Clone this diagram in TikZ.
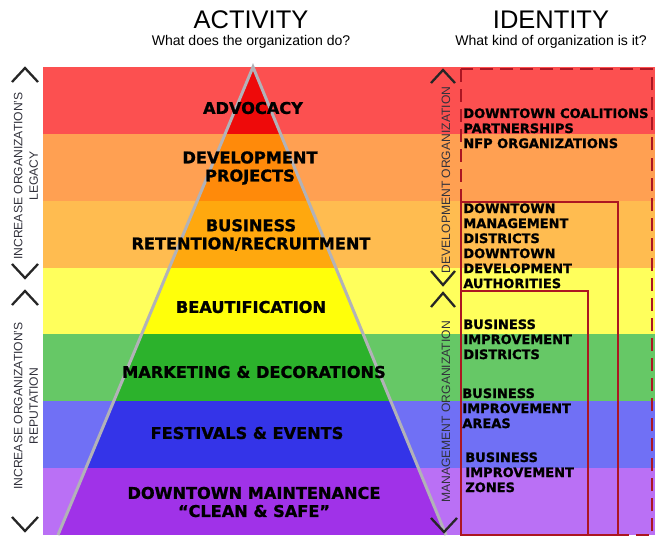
\documentclass[tikz,border=0pt]{standalone}
\usepackage{fontspec}
\setmainfont{Liberation Sans}
\newfontfamily\blackfont{DejaVu Sans}[BoldFeatures={FakeBold=1.1}]
\usetikzlibrary{positioning}

% band colours: light (outside the pyramid) / full (inside it)
\definecolor{redL}{RGB}{252,80,80}
\definecolor{redF}{RGB}{238,10,10}
\definecolor{orgL}{RGB}{255,160,82}
\definecolor{orgF}{RGB}{255,138,10}
\definecolor{ambL}{RGB}{255,188,80}
\definecolor{ambF}{RGB}{255,168,14}
\definecolor{yelL}{RGB}{255,255,92}
\definecolor{yelF}{RGB}{255,255,10}
\definecolor{grnL}{RGB}{102,200,102}
\definecolor{grnF}{RGB}{44,178,44}
\definecolor{bluL}{RGB}{112,112,245}
\definecolor{bluF}{RGB}{52,52,232}
\definecolor{purL}{RGB}{186,112,245}
\definecolor{purF}{RGB}{160,50,232}
\definecolor{tierred}{RGB}{172,22,34}
\definecolor{pyrgray}{RGB}{178,178,184}
\definecolor{axisink}{RGB}{50,50,60}

\newcommand\bandlist{redL/redF, orgL/orgF, ambL/ambF, yelL/yelF,
  grnL/grnF, bluL/bluF, purL/purF}

\tikzset{
  heading/.style={font=\fontsize{14.5}{16}\selectfont, inner sep=0pt},
  question/.style={font=\fontsize{8}{9}\selectfont, inner sep=0pt},
  activity/.style={
    font=\blackfont\bfseries\fontsize{9.2}{10.3}\selectfont,
    align=center, inner sep=0pt
  },
  orgtype/.style={
    font=\blackfont\bfseries\fontsize{7.4}{8.55}\selectfont,
    align=left, anchor=north west, inner sep=0pt
  },
  axislabel/.style={
    font=\fontsize{6.9}{8.9}\selectfont, text=axisink,
    rotate=90, align=center, inner sep=0pt
  },
  chevron/.style={line width=1.3pt, line join=miter, draw=black!85},
  tier/.style={draw=tierred, line width=1.3pt}
}

\begin{document}
\begin{tikzpicture}[x=0.02cm, y=-0.02cm]
  \useasboundingbox (0,0) rectangle (655,540);

  %% ---- colour bands ------------------------------------------------
  \foreach \lc/\fc [count=\i from 0] in \bandlist {
    \fill[\lc] (43,{67+66.86*\i}) rectangle (655,{67+66.86*(\i+1)});
  }
  \begin{scope}
    \clip (253,67) -- (58,535) -- (446,535) -- cycle;
    \foreach \lc/\fc [count=\i from 0] in \bandlist {
      \fill[\fc] (43,{67+66.86*\i}) rectangle (655,{67+66.86*(\i+1)});
    }
  \end{scope}
  \draw[pyrgray, line width=1.7pt] (58,535) -- (253,67) -- (446,535);

  %% ---- headings ----------------------------------------------------
  \node[heading] (act) at (251,20) {ACTIVITY};
  \node[question, below=3.4pt of act] (actq) {What does the organization do?};
  \node[heading] (idn) at (551,20) {IDENTITY};
  \node[question, below=3.4pt of idn] (idnq) {What kind of organization is it?};

  %% ---- pyramid: activities -----------------------------------------
  \node[activity] (adv) at (253,108) {ADVOCACY};
  \node[activity] (dev) at (250,168) {DEVELOPMENT\\PROJECTS};
  \node[activity] (ret) at (251,235) {BUSINESS\\RETENTION/RECRUITMENT};
  \node[activity] (bea) at (251,307) {BEAUTIFICATION};
  \node[activity] (mkt) at (254,372) {MARKETING \& DECORATIONS};
  \node[activity] (fes) at (247,433) {FESTIVALS \& EVENTS};
  \node[activity] (mnt) at (254,502) {DOWNTOWN MAINTENANCE\\“CLEAN \& SAFE”};

  %% ---- identity tiers ----------------------------------------------
  \draw[tier, dash pattern=on 7.4pt off 4pt] (461,69) rectangle (652,535);
  \draw[tier] (461,202) rectangle (618,535);
  \draw[tier] (461,291) rectangle (588,535);

  \node[orgtype] (coal) at (463,108)
    {DOWNTOWN COALITIONS\\PARTNERSHIPS\\NFP ORGANIZATIONS};
  \node[orgtype] (dmd) at (463,203)
    {DOWNTOWN\\MANAGEMENT\\DISTRICTS\\DOWNTOWN\\DEVELOPMENT\\AUTHORITIES};
  \node[orgtype] (bid) at (463,319) {BUSINESS\\IMPROVEMENT\\DISTRICTS};
  \node[orgtype] (bia) at (462,388) {BUSINESS\\IMPROVEMENT\\AREAS};
  \node[orgtype] (biz) at (465,452) {BUSINESS\\IMPROVEMENT\\ZONES};

  %% ---- left axis ---------------------------------------------------
  \draw[chevron] (12,82) -- (25,68) -- (38,82);
  \node[axislabel] (leg) at (26,176) {INCREASE ORGANIZATION'S\\LEGACY};
  \draw[chevron] (12,264) -- (25,278) -- (38,264);
  \draw[chevron] (12,305) -- (25,291) -- (38,305);
  \node[axislabel] (rep) at (26,406) {INCREASE ORGANIZATION'S\\REPUTATION};
  \draw[chevron] (12,517) -- (25,531) -- (38,517);

  %% ---- right axis --------------------------------------------------
  \draw[chevron] (431,83) -- (443,70) -- (455,83);
  \node[axislabel] (devorg) at (446,180) {DEVELOPMENT ORGANIZATION};
  \draw[chevron] (431,271) -- (443,285) -- (455,271);
  \draw[chevron] (431,307) -- (443,293) -- (455,307);
  \node[axislabel] (mgtorg) at (446,412) {MANAGEMENT ORGANIZATION};
  \draw[chevron] (431,518) -- (444,532) -- (457,518);

\end{tikzpicture}
\end{document}
